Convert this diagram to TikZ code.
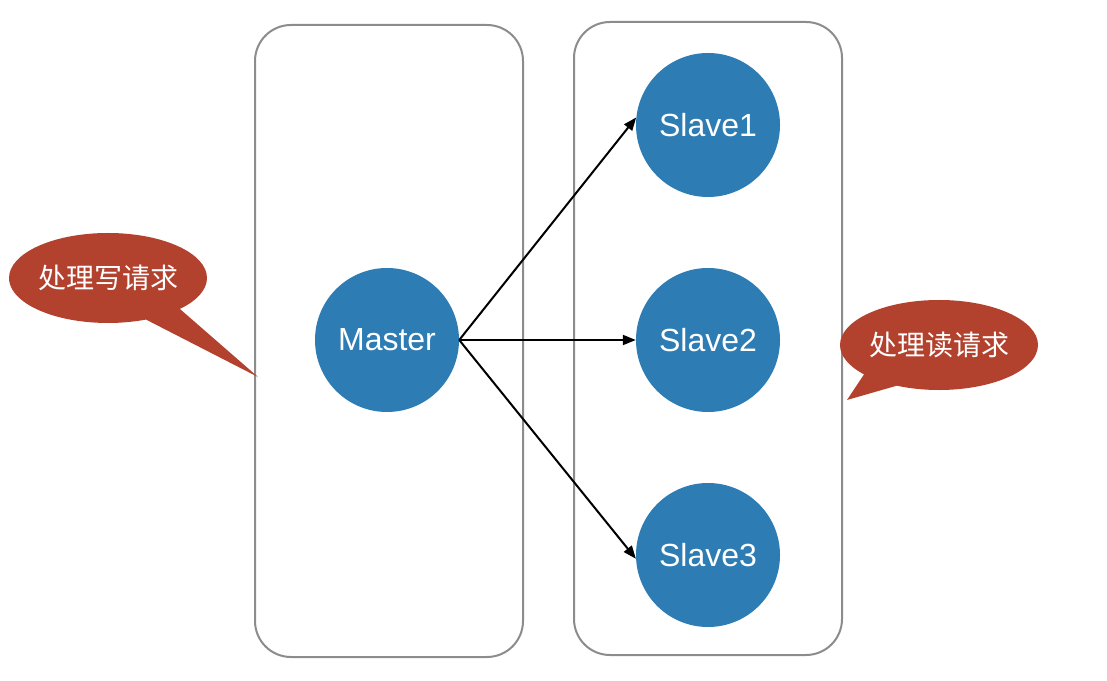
\documentclass[tikz,border=0pt]{standalone}
\usepackage{fontspec}
\setmainfont{Liberation Sans}
\newfontfamily\cjk{Noto Sans CJK SC}
\usepackage{xcolor}
\usetikzlibrary{shapes.callouts,arrows.meta}

\definecolor{nodeblue}{HTML}{2D7CB4}
\definecolor{calloutred}{HTML}{B2412E}
\definecolor{boxgray}{HTML}{8C8C8C}

\begin{document}
\begin{tikzpicture}[x=1pt,y=1pt]
\def\r{144pt}  % circle size
\def\lw{2pt}   % box line width
\tikzset{
  server/.style={circle, fill=nodeblue, minimum size=\r, inner sep=0pt,
    text=white, font=\fontsize{32}{36}\selectfont},
  panel/.style={draw=boxgray, line width=\lw, rounded corners=36pt},
  bubble/.style={ellipse callout, fill=calloutred, text=white,
    minimum width=188pt, minimum height=90pt, inner sep=0pt,
    callout pointer arc=24, font=\cjk\fontsize{28}{32}\selectfont},
  link/.style={-{Triangle[length=13pt,width=10pt]}, line width=2pt}
}
\useasboundingbox (0,0) rectangle (1107,680);

% Two panels: writer and readers
\draw[panel] (255,23) rectangle (523,655);
\draw[panel] (574,25) rectangle (842,658);

% Master and slaves
\node[server] (master) at (387,340) {Master};
\node[server] (slave1) at (708,555) {Slave1};
\node[server] (slave2) at (708,340) {Slave2};
\node[server] (slave3) at (708,125) {Slave3};

% Replication arrows
\draw[link] (master.east) -- (slave1.174);
\draw[link] (master.east) -- (slave2.west);
\draw[link] (master.east) -- (slave3.183);

% Callouts
\coordinate (writetip) at (258,303);
\coordinate (readtip) at (847,280);
\node[bubble, callout absolute pointer={(writetip)}] (write) at (108,402) {处理写请求};
\node[bubble, callout absolute pointer={(readtip)}] (read) at (939,335) {处理读请求};

\end{tikzpicture}
\end{document}
